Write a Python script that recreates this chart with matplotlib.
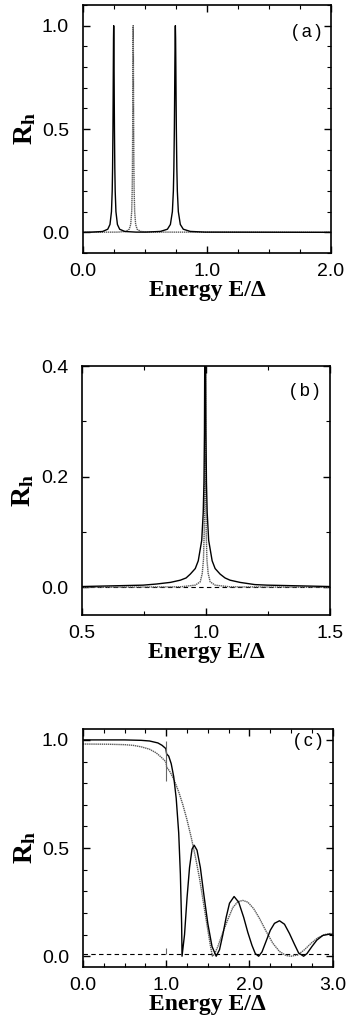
import matplotlib
matplotlib.use('Agg')
import matplotlib.pyplot as plt
from matplotlib.ticker import MultipleLocator

# --- данные ---
# (a)
a_solid_E = [0.0, 0.068, 0.158, 0.200, 0.218, 0.230, 0.236, 0.239, 0.242, 0.2435, 0.245, 0.2465, 0.248,
             0.2495, 0.251, 0.2525, 0.254, 0.257, 0.260, 0.266, 0.278, 0.296, 0.338, 0.428,
             0.505, 0.625, 0.681, 0.705, 0.721, 0.729, 0.733, 0.737, 0.739, 0.741, 0.743, 0.745,
             0.747, 0.749, 0.751, 0.753, 0.757, 0.761, 0.769, 0.785, 0.809, 0.865, 0.985, 2.0]
a_solid_R = [0.0, 0.001, 0.004, 0.015, 0.038, 0.1, 0.2, 0.31, 0.5, 0.64, 0.8, 0.94, 1.0,
             0.94, 0.8, 0.64, 0.5, 0.31, 0.2, 0.1, 0.038, 0.015, 0.004, 0.001,
             0.001, 0.0044, 0.015, 0.038, 0.1, 0.2, 0.31, 0.5, 0.64, 0.8, 0.94, 1.0,
             0.94, 0.8, 0.64, 0.5, 0.31, 0.2, 0.1, 0.038, 0.015, 0.0044, 0.001, 0.0]
a_dot_E = [0.0, 0.285, 0.345, 0.373, 0.385, 0.393, 0.397, 0.399, 0.401, 0.402, 0.403, 0.404, 0.405,
           0.406, 0.407, 0.408, 0.409, 0.411, 0.413, 0.417, 0.425, 0.437, 0.465, 0.525, 2.0]
a_dot_R = [0.0, 0.0011, 0.0044, 0.015, 0.038, 0.1, 0.2, 0.31, 0.5, 0.64, 0.8, 0.94, 1.0,
           0.94, 0.8, 0.64, 0.5, 0.31, 0.2, 0.1, 0.038, 0.015, 0.0044, 0.0011, 0.0]

# (b)
b_solid_E = [0.5, 0.747, 0.8, 0.857, 0.897, 0.92, 0.937, 0.957, 0.969, 0.983, 0.989, 0.992, 0.994, 0.9955, 0.997,
             0.9985, 1.000, 1.002, 1.005, 1.011, 1.025, 1.037, 1.057, 1.077, 1.097, 1.137, 1.197, 1.247, 1.5]
b_solid_R = [0.0015, 0.004, 0.006, 0.009, 0.013, 0.017, 0.024, 0.034, 0.048, 0.085, 0.135, 0.19, 0.28, 0.45, 1.0,
             0.45, 0.28, 0.19, 0.135, 0.085, 0.048, 0.034, 0.024, 0.017, 0.013, 0.009, 0.005, 0.004, 0.0015]
b_dot_E = [0.5, 0.897, 0.957, 0.977, 0.985, 0.990, 0.993, 0.995, 0.996, 0.997,
           0.998, 0.999, 1.001, 1.004, 1.009, 1.017, 1.037, 1.097, 1.5]
b_dot_R = [0.0, 0.001, 0.004, 0.01, 0.025, 0.05, 0.1, 0.2, 0.4, 1.0,
           0.4, 0.2, 0.1, 0.05, 0.025, 0.01, 0.004, 0.001, 0.0]
b_dash_R = 0.0

# (c)
c_solid_E = [0.0, 0.5, 0.7, 0.8, 0.9, 0.95, 0.995,
             1.005, 1.03, 1.06, 1.09, 1.12, 1.15, 1.17, 1.185, 1.19,
             1.22, 1.25, 1.28, 1.31, 1.336, 1.37, 1.41, 1.45, 1.50, 1.55, 1.60,
             1.64, 1.68, 1.72, 1.76, 1.815, 1.87, 1.93, 1.98, 2.03, 2.07, 2.11,
             2.15, 2.20, 2.25, 2.30, 2.36, 2.42, 2.48, 2.54, 2.59, 2.65,
             2.69, 2.75, 2.81, 2.88, 2.96, 3.0]
c_solid_R = [1.0, 1.0, 0.998, 0.995, 0.986, 0.975, 0.96,
             0.935, 0.925, 0.89, 0.83, 0.73, 0.57, 0.38, 0.15, 0.0,
             0.10, 0.27, 0.41, 0.495, 0.513, 0.49, 0.41, 0.29, 0.15, 0.045, 0.0,
             0.03, 0.10, 0.18, 0.245, 0.276, 0.25, 0.18, 0.11, 0.05, 0.012, 0.0,
             0.02, 0.07, 0.12, 0.152, 0.164, 0.148, 0.105, 0.055, 0.015, 0.0,
             0.012, 0.045, 0.075, 0.096, 0.102, 0.098]
c_dot_E = [0.0, 0.3, 0.5, 0.6, 0.7, 0.8, 0.88, 0.94, 0.98, 0.998,
           1.005, 1.05, 1.1, 1.15, 1.2, 1.25, 1.3, 1.35, 1.4, 1.45, 1.5, 1.53, 1.555,
           1.58, 1.62, 1.68, 1.74, 1.80, 1.86, 1.92, 1.98, 2.05, 2.12, 2.2, 2.28, 2.36, 2.44, 2.50,
           2.58, 2.66, 2.74, 2.82, 2.9, 2.97, 3.0]
c_dot_R = [0.981, 0.98, 0.978, 0.975, 0.968, 0.957, 0.94, 0.92, 0.905, 0.895,
           0.875, 0.85, 0.81, 0.76, 0.70, 0.63, 0.55, 0.46, 0.36, 0.24, 0.12, 0.05, 0.0,
           0.01, 0.045, 0.11, 0.17, 0.225, 0.252, 0.258, 0.25, 0.22, 0.175, 0.115, 0.06, 0.022, 0.003, 0.0,
           0.006, 0.03, 0.06, 0.085, 0.1, 0.105, 0.104]
c_dash_R = 0.01
c_mark_E = [1.0, 1.0]
c_mark_lo = [0.81, 0.012]
c_mark_hi = [0.997, 0.04]

plt.rcParams['font.family'] = ['Liberation Sans', 'DejaVu Sans']
plt.rcParams['mathtext.fontset'] = 'custom'
plt.rcParams['mathtext.bf'] = 'Liberation Serif:bold'
plt.rcParams['mathtext.rm'] = 'Liberation Serif'

fig = plt.figure(figsize=(3.47, 10.23), dpi=100)
ax_a = fig.add_axes([0.239, 0.7527, 0.715, 0.2424])
ax_b = fig.add_axes([0.236, 0.3988, 0.715, 0.2434])
ax_c = fig.add_axes([0.239, 0.0547, 0.720, 0.2326])

solid = dict(color='black', lw=1.0)
dotted = dict(color='0.35', lw=1.0, ls=(0, (1, 0.5)))
dashed = dict(color='black', lw=0.8, ls=(0, (4, 3)))

ax_a.plot(a_dot_E, a_dot_R, **dotted)
ax_a.plot(a_solid_E, a_solid_R, **solid)

ax_b.axhline(b_dash_R, **dashed)
ax_b.plot(b_dot_E, b_dot_R, **dotted)
ax_b.plot(b_solid_E, b_solid_R, **solid)

ax_c.axhline(c_dash_R, **dashed)
ax_c.plot(c_dot_E, c_dot_R, **dotted)
ax_c.plot(c_solid_E, c_solid_R, **solid)
ax_c.vlines(c_mark_E, c_mark_lo, c_mark_hi, color='0.4', lw=0.8)

settings = [
    (ax_a, (0, 2), (-0.1, 1.1), 1.0, 0.25, 0.5, 0.1, '(a)', 0.89),
    (ax_b, (0.5, 1.5), (-0.05, 0.4), 0.5, 0.25, 0.2, 0.1, '(b)', 0.897),
    (ax_c, (0, 3), (-0.05, 1.05), 1.0, 0.25, 0.5, 0.1, '(c)', 0.946),
]
for ax, xl, yl, xmaj, xmin, ymaj, ymin, tag, ty in settings:
    ax.set_xlim(*xl)
    ax.set_ylim(*yl)
    ax.xaxis.set_major_locator(MultipleLocator(xmaj))
    ax.xaxis.set_minor_locator(MultipleLocator(xmin))
    ax.yaxis.set_major_locator(MultipleLocator(ymaj))
    ax.yaxis.set_minor_locator(MultipleLocator(ymin))
    ax.xaxis.set_major_formatter('{x:.1f}')
    ax.yaxis.set_major_formatter('{x:.1f}')
    ax.tick_params(which='both', direction='in', top=True, right=True, labelsize=14)
    ax.tick_params(which='major', length=5, width=1.0, pad=7)
    ax.tick_params(axis='y', which='major', pad=10)
    ax.tick_params(which='minor', length=3, width=0.8)
    for s in ax.spines.values():
        s.set_linewidth(1.2)
    ax.set_xlabel('Energy E/Δ', family='Liberation Serif', fontweight='bold', fontsize=17, labelpad=0)
    ax.set_ylabel(r'$\mathbf{R_h}$', fontsize=20, labelpad=3)
    ax.text(0.90, ty, tag.replace('(', '(\u2009').replace(')', '\u2009)'), transform=ax.transAxes,
            ha='center', va='center', fontsize=13)

fig.savefig('out.png', dpi=100)
